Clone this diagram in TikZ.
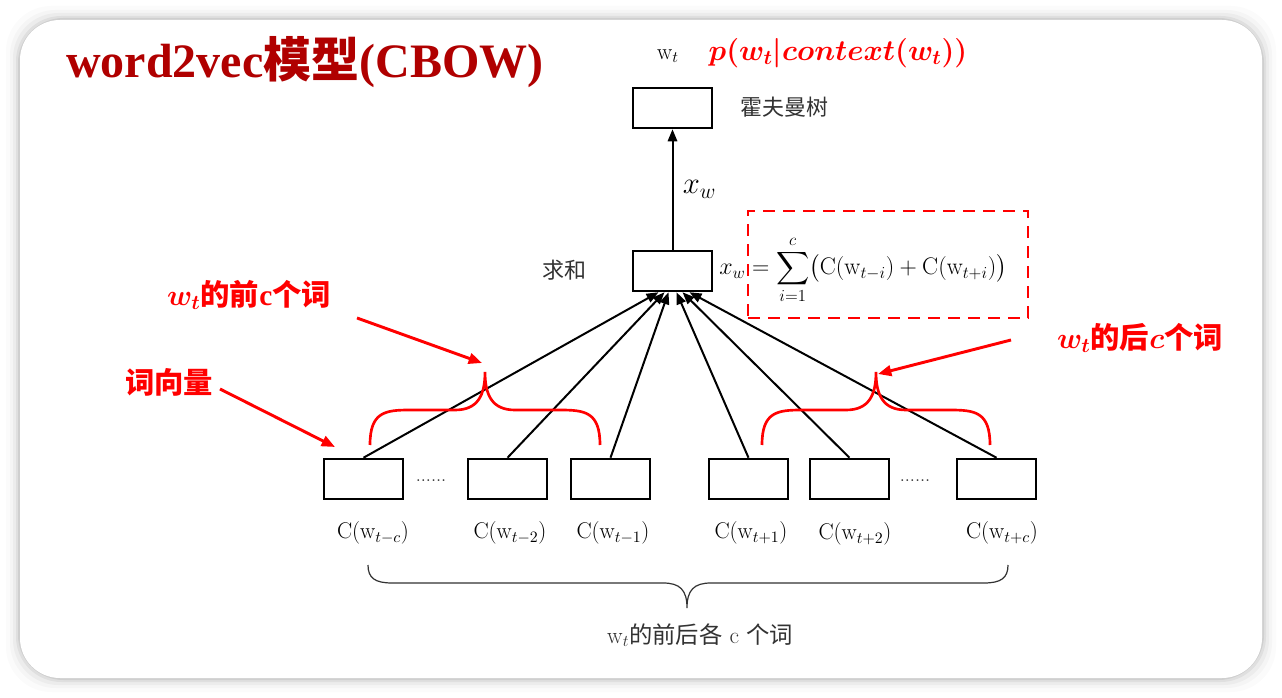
\RequirePackage{fix-cm}
\documentclass[tikz,border=0pt]{standalone}
\usepackage{fontspec}
\usepackage{amsmath,bm}
\newfontfamily\cjk{Noto Sans CJK SC}
\newfontfamily\serifb{Liberation Serif}
\usetikzlibrary{calc,arrows.meta}
\definecolor{titlered}{RGB}{176,0,0}
\definecolor{hred}{RGB}{255,0,0}
\definecolor{txtgrey}{RGB}{50,50,50}
\tikzset{
  wbox/.style={draw=black,line width=1.9pt,minimum width=59pt,minimum height=30pt,inner sep=0pt},
  conn/.style={line width=1.5pt,-{Triangle[length=9pt,width=7pt]}},
  redarrow/.style={hred,line width=2.2pt,-{Triangle[length=10pt,width=8pt]}},
  redbrace/.style={hred,line width=2pt},
  greybrace/.style={txtgrey,line width=0.9pt},
  lbl/.style={font=\fontsize{17}{20}\selectfont,inner sep=0pt},
  cjklbl/.style={font=\cjk\fontsize{16.5}{19}\selectfont,text=txtgrey,inner sep=0pt},
  redlbl/.style={font=\cjk\bfseries\fontsize{22}{26}\selectfont,text=hred,inner sep=0pt},
  dots/.style={inner sep=0pt,text=txtgrey,font=\fontsize{14}{16}\selectfont},
}
\begin{document}
\begin{tikzpicture}[x=0.75pt,y=-0.75pt]
\useasboundingbox (0,0) rectangle (1282,698);
\fill[white] (0,0) rectangle (1282,698);
% shadow
\foreach \s/\o in {14/0.015,10/0.025,7/0.035,4/0.05,2/0.07}{
  \fill[black,opacity=\o,rounded corners=34pt] (20-\s,20-\s) rectangle (1262+\s,678+\s);
}
\fill[white,rounded corners=30pt] (20,20) rectangle (1262,678);

% title
\node[anchor=base west,text=titlered,inner sep=0pt,font=\fontsize{36}{42}\selectfont] (title) at (66,78)
  {{\serifb\bfseries word2vec}{\cjk\bfseries 模型}{\serifb\bfseries (CBOW)}};

% top
\node[lbl] (wt) at (668,56) {$\mathrm{w}_t$};
\node[inner sep=0pt,text=hred,font=\fontsize{22}{26}\selectfont] (prob) at (838,53) {$\bm{p(w_t|context(w_t))}$};
\node[wbox] (top) at (672.5,108) {};
\node[cjklbl,anchor=west] (huff) at (740,107) {霍夫曼树};

% sum box
\node[wbox] (sum) at (672.5,271) {};
\node[cjklbl] (qiuhe) at (564,270) {求和};
\draw[conn] (sum.north) -- (top.south) node[midway,right=7pt,font=\fontsize{23}{27}\selectfont,inner sep=0pt] (xwl) {$x_w$};

% formula
\node[draw=hred,dashed,dash pattern=on 9pt off 6pt,line width=1.6pt,minimum width=210pt,minimum height=80pt,inner sep=0pt] (dbox) at (888,264.5) {};
\node[lbl,anchor=west,font=\fontsize{18}{21}\selectfont] (formula) at (719,270) {$\displaystyle x_w=\sum_{i=1}^{c}\bigl(\mathrm{C}(\mathrm{w}_{t-i})+\mathrm{C}(\mathrm{w}_{t+i})\bigr)$};

% bottom boxes
\node[wbox] (b1) at (363.5,479) {};
\node[wbox] (b2) at (507.5,479) {};
\node[wbox] (b3) at (610.5,479) {};
\node[wbox] (b4) at (748.5,479) {};
\node[wbox] (b5) at (849.5,479) {};
\node[wbox] (b6) at (996.5,479) {};
\node[dots] (d1) at (431,481) {......};
\node[dots] (d2) at (915,481) {......};

\node[lbl] (l1) at (373,533) {$\mathrm{C}(\mathrm{w}_{t-c})$};
\node[lbl] (l2) at (510,533) {$\mathrm{C}(\mathrm{w}_{t-2})$};
\node[lbl] (l3) at (613,533) {$\mathrm{C}(\mathrm{w}_{t-1})$};
\node[lbl] (l4) at (751,533) {$\mathrm{C}(\mathrm{w}_{t+1})$};
\node[lbl] (l5) at (855,534) {$\mathrm{C}(\mathrm{w}_{t+2})$};
\node[lbl] (l6) at (1002,533) {$\mathrm{C}(\mathrm{w}_{t+c})$};

% connectors
\draw[conn] (b1.north) -- ($(sum.south)+(-14,0)$);
\draw[conn] (b2.north) -- ($(sum.south)+(-8,0)$);
\draw[conn] (b3.north) -- ($(sum.south)+(-4,0)$);
\draw[conn] (b4.north) -- ($(sum.south)+(4,0)$);
\draw[conn] (b5.north) -- ($(sum.south)+(10,0)$);
\draw[conn] (b6.north) -- ($(sum.south)+(17,0)$);

% red braces
\draw[redbrace] (370,445) .. controls (370,412) and (385,410) .. (410,410) -- (455,410)
  .. controls (478,410) and (485,395) .. (485,372)
  .. controls (485,395) and (492,410) .. (515,410) -- (560,410)
  .. controls (585,410) and (600,412) .. (600,445);
\draw[redbrace] (762,445) .. controls (762,412) and (777,410) .. (802,410) -- (846,410)
  .. controls (869,410) and (876,395) .. (876,372)
  .. controls (876,395) and (883,410) .. (906,410) -- (950,410)
  .. controls (975,410) and (990,412) .. (990,445);
\coordinate (lbtip) at (482,363);
\coordinate (rbtip) at (878,374);
\coordinate (vectip) at (335,447);

% red labels and arrows
\node[redlbl] (prev) at (249,295) {$\bm{w_t}$的前{\serifb\bfseries c}个词};
\node[redlbl] (vec) at (169,382) {词向量};
\node[redlbl] (next) at (1140,338) {$\bm{w_t}$的后$\bm{c}$个词};
\coordinate (prevs) at (357,318);
\coordinate (vecs) at (220,389);
\coordinate (nexts) at (1011,340);
\draw[redarrow] (prevs) -- (lbtip);
\draw[redarrow] (vecs) -- (vectip);
\draw[redarrow] (nexts) -- (rbtip);

% bottom grey brace
\draw[greybrace] (368,565) .. controls (368,578) and (375,583) .. (392,583) -- (663,583)
  .. controls (680,583) and (687,590) .. (687,608)
  .. controls (687,590) and (694,583) .. (711,583) -- (984,583)
  .. controls (1001,583) and (1008,578) .. (1008,565);
\node[inner sep=0pt,text=txtgrey,font=\fontsize{17.5}{20}\selectfont] (allc) at (700,635) {$\mathrm{w}_t${\cjk 的前后各} c {\cjk 个词}};
\end{tikzpicture}
\end{document}
